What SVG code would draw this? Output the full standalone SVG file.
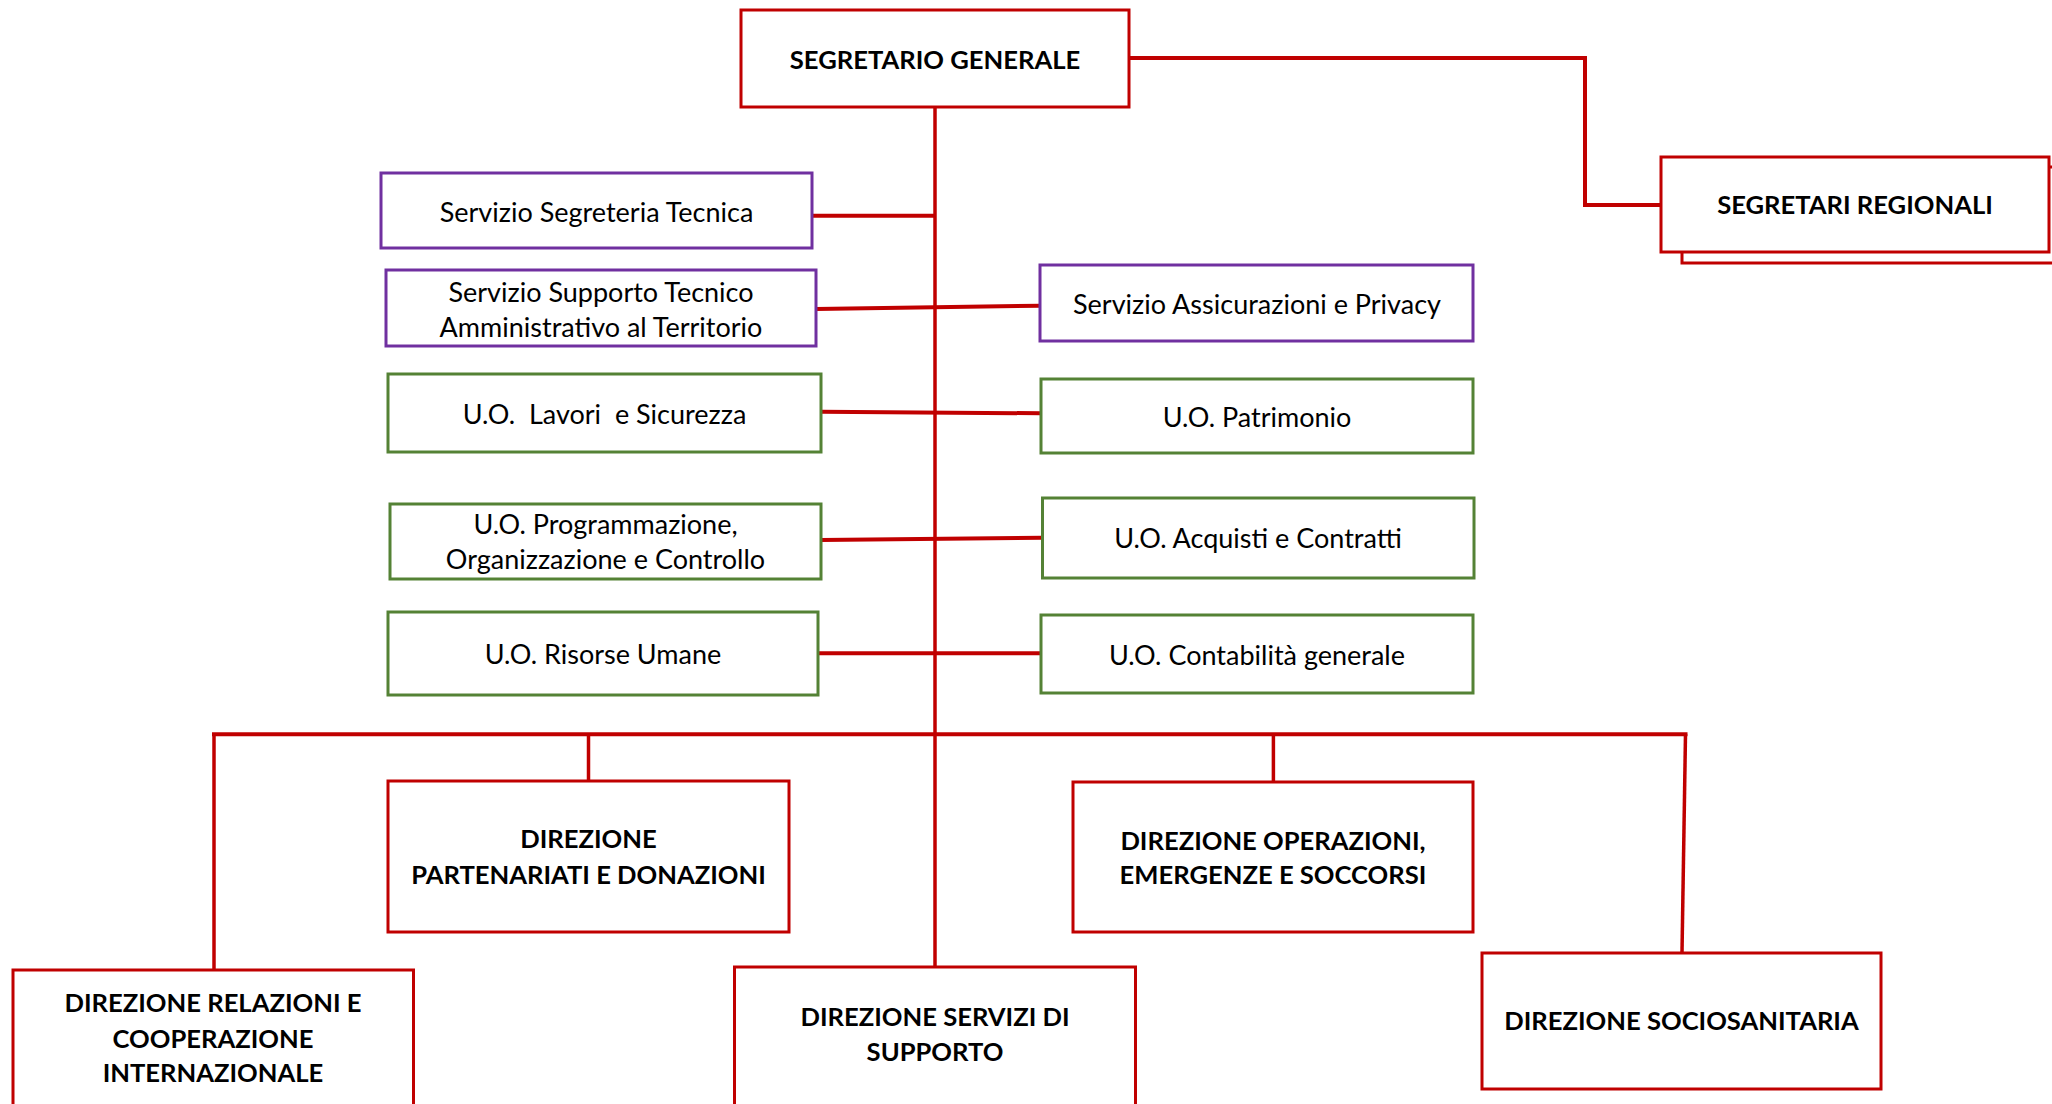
<svg xmlns="http://www.w3.org/2000/svg" width="2052" height="1104" viewBox="0 0 2052 1104">
<style>
.bg{fill:#ffffff}
.red{fill:#ffffff;stroke:#C00000;stroke-width:3}
.pur{fill:#ffffff;stroke:#7030A0;stroke-width:3}
.grn{fill:#ffffff;stroke:#548235;stroke-width:3}
.t{font-family:Lato,"Liberation Sans",sans-serif;font-size:27px;fill:#000;text-anchor:middle}
.b{font-family:Lato,"Liberation Sans",sans-serif;font-size:25.6px;font-weight:bold;fill:#000;text-anchor:middle}
.c{fill:none;stroke:#C00000;stroke-width:4;stroke-linecap:butt}
.v{fill:none;stroke:#C00000;stroke-width:3.5}
</style>
<rect class="bg" x="0" y="0" width="2052" height="1104"/>
<g id="connectors">
<path class="c" d="M1129 58 H1585 V205 H1661"/>
<path class="v" d="M935 107 V967"/>
<path class="c" d="M812 215.7 H935"/>
<path class="c" d="M816 309 L1040 305.7"/>
<path class="c" d="M821 411.7 L1041 413.3"/>
<path class="c" d="M821 540 L1042 537.7"/>
<path class="c" d="M818 653.3 H1041"/>
<path class="c" d="M212 734.3 H1687.5"/>
<path class="v" d="M214 734 V970"/>
<path class="v" d="M588.5 734 V781"/>
<path class="v" d="M1273.4 734 V782"/>
<path class="v" d="M1685.5 734 L1682 953"/>
</g>
<g id="segretario-generale">
<rect class="red" x="741" y="10" width="388" height="97"/>
<text class="b" x="935" y="69">SEGRETARIO GENERALE</text>
</g>
<g id="segretari-regionali">
<rect class="red" x="1682" y="167" width="400" height="96"/>
<rect class="red" x="1661" y="157" width="388" height="95"/>
<text class="b" x="1855" y="214">SEGRETARI REGIONALI</text>
</g>
<g id="servizio-segreteria-tecnica">
<rect class="pur" x="381" y="173" width="431" height="75"/>
<text class="t" x="596.5" y="222">Servizio Segreteria Tecnica</text>
</g>
<g id="servizio-supporto">
<rect class="pur" x="386" y="270" width="430" height="76"/>
<text class="t" x="601" y="302">Servizio Supporto Tecnico</text>
<text class="t" x="601" y="337">Amministrativo al Territorio</text>
</g>
<g id="servizio-assicurazioni">
<rect class="pur" x="1040" y="265" width="433" height="76"/>
<text class="t" x="1257" y="314">Servizio Assicurazioni e Privacy</text>
</g>
<g id="uo-lavori">
<rect class="grn" x="388" y="374" width="433" height="78"/>
<text class="t" x="604.5" y="424" xml:space="preserve">U.O.  Lavori  e Sicurezza</text>
</g>
<g id="uo-patrimonio">
<rect class="grn" x="1041" y="379" width="432" height="74"/>
<text class="t" x="1257" y="427">U.O. Patrimonio</text>
</g>
<g id="uo-programmazione">
<rect class="grn" x="390" y="504" width="431" height="75"/>
<text class="t" x="605.5" y="534">U.O. Programmazione,</text>
<text class="t" x="605.5" y="569">Organizzazione e Controllo</text>
</g>
<g id="uo-acquisti">
<rect class="grn" x="1042.5" y="498" width="431.5" height="80"/>
<text class="t" x="1258" y="548">U.O. Acquisti e Contratti</text>
</g>
<g id="uo-risorse-umane">
<rect class="grn" x="388" y="612" width="430" height="83"/>
<text class="t" x="603" y="664">U.O. Risorse Umane</text>
</g>
<g id="uo-contabilita">
<rect class="grn" x="1041" y="615" width="432" height="78"/>
<text class="t" x="1257" y="665">U.O. Contabilità generale</text>
</g>
<g id="dir-relazioni">
<rect class="red" x="13" y="970" width="400.5" height="150"/>
<text class="b" x="213" y="1012">DIREZIONE RELAZIONI E</text>
<text class="b" x="213" y="1047.7">COOPERAZIONE</text>
<text class="b" x="213" y="1082.3">INTERNAZIONALE</text>
</g>
<g id="dir-partenariati">
<rect class="red" x="388" y="781" width="401" height="151"/>
<text class="b" x="588.5" y="848">DIREZIONE</text>
<text class="b" x="588.5" y="884">PARTENARIATI E DONAZIONI</text>
</g>
<g id="dir-servizi-supporto">
<rect class="red" x="734.5" y="967" width="401" height="150"/>
<text class="b" x="935" y="1026">DIREZIONE SERVIZI DI</text>
<text class="b" x="935" y="1061">SUPPORTO</text>
</g>
<g id="dir-operazioni">
<rect class="red" x="1073" y="782" width="400" height="150"/>
<text class="b" x="1273" y="850">DIREZIONE OPERAZIONI,</text>
<text class="b" x="1273" y="884">EMERGENZE E SOCCORSI</text>
</g>
<g id="dir-sociosanitaria">
<rect class="red" x="1482" y="953" width="399" height="136"/>
<text class="b" x="1681.5" y="1030">DIREZIONE SOCIOSANITARIA</text>
</g>
</svg>
